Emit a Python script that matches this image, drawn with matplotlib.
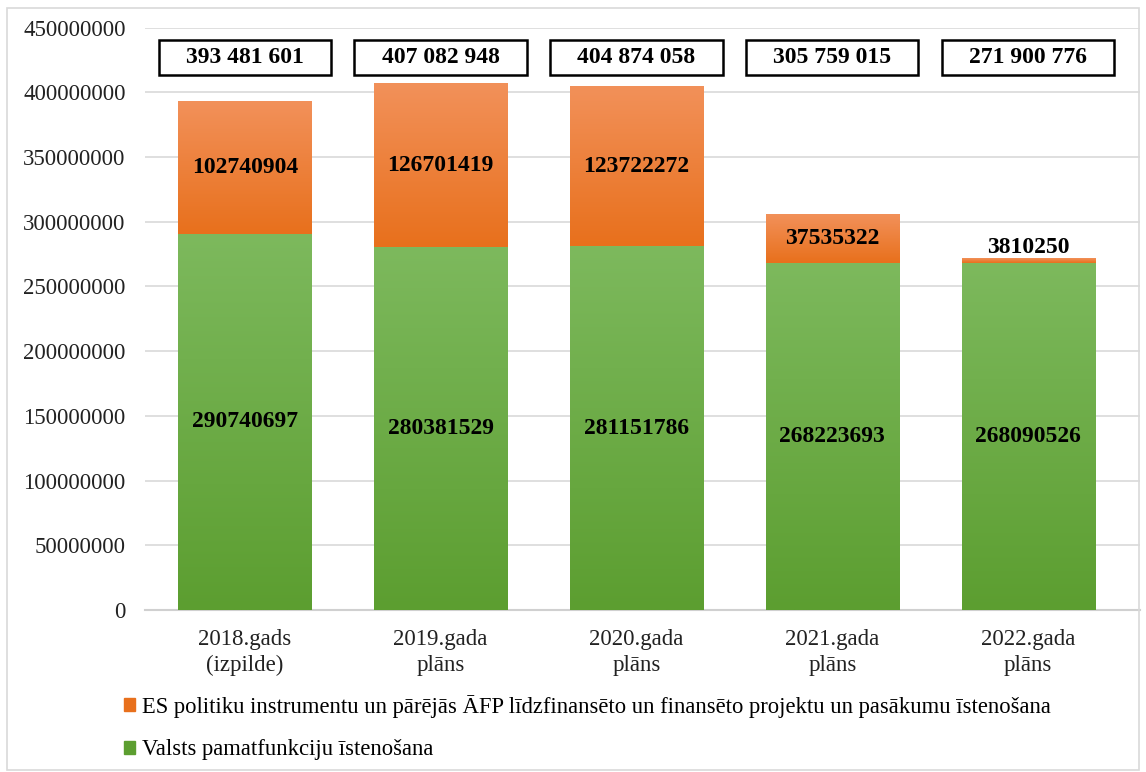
import numpy as np
import matplotlib.pyplot as plt
from matplotlib.patches import Patch, Rectangle
from matplotlib.colors import LinearSegmentedColormap
from matplotlib.transforms import blended_transform_factory

plt.rcParams['font.family'] = ['Liberation Serif', 'DejaVu Serif']

# data
categories = ['2018.gads\n(izpilde)', '2019.gada\nplāns', '2020.gada\nplāns',
              '2021.gada\nplāns', '2022.gada\nplāns']
valsts = [290740697, 280381529, 281151786, 268223693, 268090526]
es_proj = [102740904, 126701419, 123722272, 37535322, 3810250]
totals = ['393 481 601', '407 082 948', '404 874 058', '305 759 015', '271 900 776']
legend_labels = ['ES politiku instrumentu un pārējās ĀFP līdzfinansēto un finansēto projektu un pasākumu īstenošana',
                 'Valsts pamatfunkciju īstenošana']

green_top, green_bot = '#7db95d', '#5c9e30'
orange_top, orange_bot = '#f2915a', '#e8701c'

fig = plt.figure(figsize=(11.46, 7.72), dpi=100)
ax = fig.add_axes([0.1265, 0.21, 0.868, 0.754])

x = np.arange(len(categories))
w = 0.68
g_bars = ax.bar(x, valsts, w, color=green_bot, zorder=2)
o_bars = ax.bar(x, es_proj, w, bottom=valsts, color=orange_bot, zorder=2)

# vertical gradient fill clipped to each bar
grad = np.linspace(1, 0, 256).reshape(-1, 1)
for bars, top, bot in [(g_bars, green_top, green_bot), (o_bars, orange_top, orange_bot)]:
    cmap = LinearSegmentedColormap.from_list('g', [bot, top])
    for r in bars:
        im = ax.imshow(grad, cmap=cmap, aspect='auto', zorder=3,
                       extent=[r.get_x(), r.get_x() + r.get_width(),
                               r.get_y(), r.get_y() + r.get_height()])
        im.set_clip_path(r)

# total boxes: x in data, y in axes fraction
trans = blended_transform_factory(ax.transData, ax.transAxes)
box_w = 0.88
lab_kw = dict(ha='center', va='center', fontsize=17, fontweight='bold', zorder=5)
for i in range(len(x)):
    ax.text(x[i], valsts[i] / 2, str(valsts[i]), **lab_kw)
    if es_proj[i] > 20000000:
        ax.text(x[i], valsts[i] + es_proj[i] / 2, str(es_proj[i]), **lab_kw)
    else:
        ax.text(x[i], valsts[i] + es_proj[i], str(es_proj[i]),
                ha='center', va='bottom', fontsize=17, fontweight='bold', zorder=5)
    ax.add_patch(Rectangle((x[i] - box_w / 2, 0.919), box_w, 0.06, transform=trans,
                           fc='white', ec='black', lw=1.8, zorder=4, clip_on=False))
    ax.text(x[i], 0.949, totals[i], transform=trans, **lab_kw)

ax.set_xlim(-0.51, 4.57)
ax.set_ylim(0, 450000000)
ax.set_yticks(np.arange(0, 450000001, 50000000))
ax.yaxis.set_major_formatter(plt.FuncFormatter(lambda v, p: f'{int(v)}'))
ax.set_xticks(x)
ax.set_xticklabels(categories, fontsize=16.5, color='#222222', linespacing=1.3)
ax.tick_params(axis='y', labelsize=16.5, length=0, pad=14, labelcolor='#222222')
ax.tick_params(axis='x', length=0, pad=14)
ax.grid(axis='y', color='#d9d9d9', lw=1.2, zorder=0)
ax.set_axisbelow(True)
for s in ['top', 'right', 'left']:
    ax.spines[s].set_visible(False)
ax.spines['bottom'].set_color('#d0d0d0')
ax.spines['bottom'].set_linewidth(1.5)

handles = [Patch(color=orange_bot), Patch(color=green_bot)]
fig.legend(handles, legend_labels, loc='upper left', bbox_to_anchor=(0.108, 0.1),
           frameon=False, fontsize=16.3, handlelength=0.5, handleheight=0.5,
           handletextpad=0.3, labelspacing=0.95, borderpad=0, borderaxespad=0)

fig.patches.append(Rectangle((0.006, 0.003), 0.988, 0.987, transform=fig.transFigure,
                             fill=False, ec='#d9d9d9', lw=1.2))

fig.savefig('out.png', dpi=100)
